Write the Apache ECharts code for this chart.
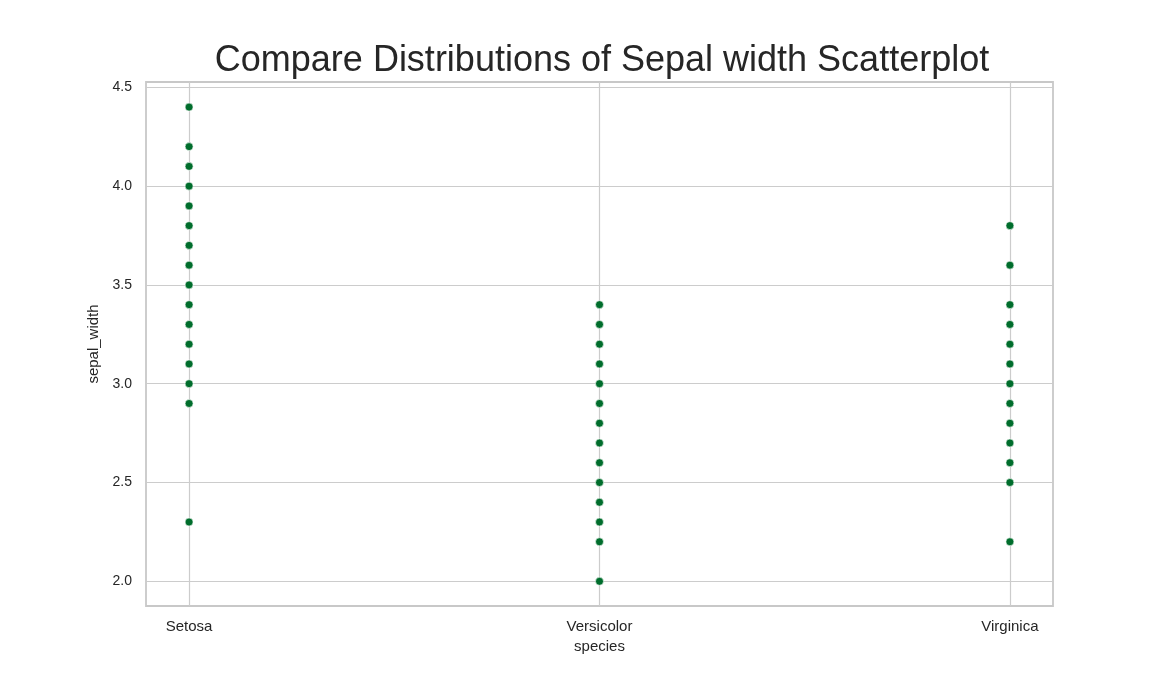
<!DOCTYPE html>
<html>
<head>
<meta charset="utf-8">
<script src="https://cdn.jsdelivr.net/npm/echarts@6/dist/echarts.min.js"></script>
<style>
  html, body { margin: 0; padding: 0; background: #fff; }
  #chartmain { width: 1170px; height: 681px; }
</style>
</head>
<body>
<div id="chartmain"></div>
<script>
// species on the x axis
var species = ['Setosa', 'Versicolor', 'Virginica'];

// sepal width values seen for each species
var setosaWidth = [4.4, 4.2, 4.1, 4.0, 3.9, 3.8, 3.7, 3.6, 3.5, 3.4, 3.3, 3.2, 3.1, 3.0, 2.9, 2.3];
var versicolorWidth = [3.4, 3.3, 3.2, 3.1, 3.0, 2.9, 2.8, 2.7, 2.6, 2.5, 2.4, 2.3, 2.2, 2.0];
var virginicaWidth = [3.8, 3.6, 3.4, 3.3, 3.2, 3.1, 3.0, 2.9, 2.8, 2.7, 2.6, 2.5, 2.2];

// tick labels
var yTicks = [2.0, 2.5, 3.0, 3.5, 4.0, 4.5];
var xTicks = [0, 1, 2];

var allWidth = [setosaWidth, versicolorWidth, virginicaWidth];
var points = [];
for (var i = 0; i < allWidth.length; i++) {
    for (var j = 0; j < allWidth[i].length; j++) {
        points.push([i, allWidth[i][j]]);
    }
}

var font = 'Liberation Sans, Arial, sans-serif';

option = {
    animation: false,
    backgroundColor: '#ffffff',
    title: {
        text: 'Compare Distributions of Sepal width Scatterplot',
        left: 597,
        textAlign: 'center',
        top: 38,
        textStyle: {
            color: '#262626',
            fontSize: 36,
            fontWeight: 'normal',
            fontFamily: font
        }
    },
    grid: {
        left: 146,
        right: 117,
        top: 82,
        bottom: 75,
        show: true,
        borderColor: '#c8c8c8',
        borderWidth: 1.8
    },
    xAxis: {
        type: 'value',
        min: -0.105,
        max: 2.105,
        name: 'species',
        nameLocation: 'middle',
        nameGap: 33,
        nameTextStyle: { color: '#262626', fontSize: 15, fontFamily: font },
        axisLine: { show: false },
        axisTick: { show: false, customValues: xTicks },
        axisLabel: {
            customValues: xTicks,
            margin: 13,
            color: '#262626',
            fontSize: 15,
            fontFamily: font,
            formatter: function (v) { return species[Math.round(v)]; }
        },
        splitLine: { show: true, lineStyle: { color: '#cccccc', width: 1.2 } }
    },
    yAxis: {
        type: 'value',
        min: 1.875,
        max: 4.527,
        name: 'sepal_width',
        nameLocation: 'middle',
        nameGap: 35,
        nameTextStyle: { color: '#262626', fontSize: 15, fontFamily: font },
        axisLine: { show: false },
        axisTick: { show: false, customValues: yTicks },
        axisLabel: {
            customValues: yTicks,
            margin: 14,
            color: '#262626',
            fontSize: 14,
            fontFamily: font,
            formatter: function (v) { return v.toFixed(1); }
        },
        splitLine: { show: true, lineStyle: { color: '#cccccc', width: 1.2 } }
    },
    series: [
        {
            type: 'scatter',
            symbolSize: 8,
            itemStyle: {
                color: '#006d2c',
                borderColor: '#ffffff',
                borderWidth: 0.6,
                opacity: 1
            },
            data: points
        }
    ]
};

var myChart = echarts.init(document.getElementById('chartmain'));
myChart.setOption(option);
</script>
</body>
</html>
